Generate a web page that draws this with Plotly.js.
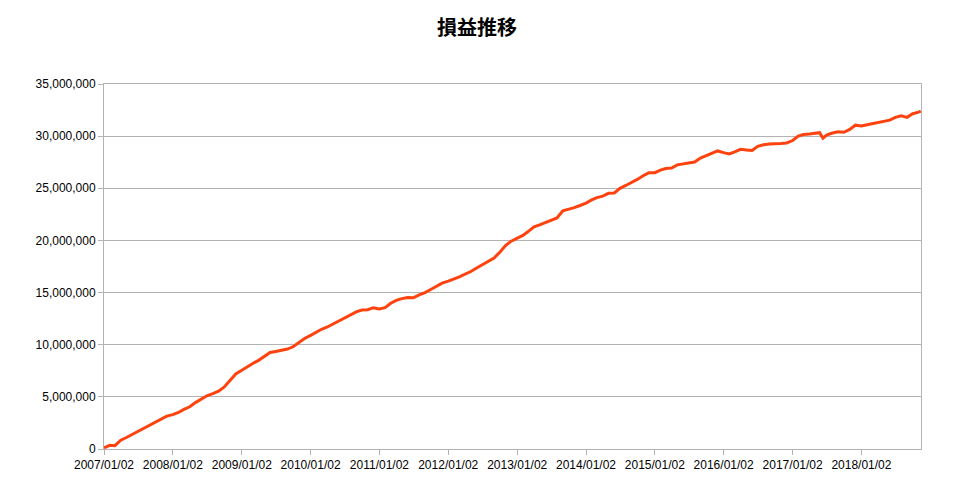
<!DOCTYPE html>
<html>
<head>
<meta charset="utf-8">
<script src="https://cdn.plot.ly/plotly-3.0.1.min.js"></script>
<style>html,body{margin:0;padding:0;background:#fff;}#chart{width:954px;height:492px;}</style>
</head>
<body>
<div id="chart"></div>
<script>
const chartTitle = '損益推移';

const dates = [
  '2007-01-02','2007-02-01','2007-03-01','2007-04-01','2007-05-01','2007-06-01','2007-07-01','2007-08-01','2007-09-01','2007-10-01','2007-11-01','2007-12-01',
  '2008-01-02','2008-02-01','2008-03-01','2008-04-01','2008-05-01','2008-06-01','2008-07-01','2008-08-01','2008-09-01','2008-10-01','2008-11-01','2008-12-01',
  '2009-01-02','2009-02-01','2009-03-01','2009-04-01','2009-05-01','2009-06-01','2009-07-01','2009-08-01','2009-09-01','2009-10-01','2009-11-01','2009-12-01',
  '2010-01-02','2010-02-01','2010-03-01','2010-04-01','2010-05-01','2010-06-01','2010-07-01','2010-08-01','2010-09-01','2010-10-01','2010-11-01','2010-12-01',
  '2011-01-02','2011-02-01','2011-03-01','2011-04-01','2011-05-01','2011-06-01','2011-07-01','2011-08-01','2011-09-01','2011-10-01','2011-11-01','2011-12-01',
  '2012-01-02','2012-02-01','2012-03-01','2012-04-01','2012-05-01','2012-06-01','2012-07-01','2012-08-01','2012-09-01','2012-10-01','2012-11-01','2012-12-01',
  '2013-01-02','2013-02-01','2013-03-01','2013-04-01','2013-05-01','2013-06-01','2013-07-01','2013-08-01','2013-09-01','2013-10-01','2013-11-01','2013-12-01',
  '2014-01-02','2014-02-01','2014-03-01','2014-04-01','2014-05-01','2014-06-01','2014-07-01','2014-08-01','2014-09-01','2014-10-01','2014-11-01','2014-12-01',
  '2015-01-02','2015-02-01','2015-03-01','2015-04-01','2015-05-01','2015-06-01','2015-07-01','2015-08-01','2015-09-01','2015-10-01','2015-11-01','2015-12-01',
  '2016-01-02','2016-02-01','2016-03-01','2016-04-01','2016-05-01','2016-06-01','2016-07-01','2016-08-01','2016-09-01','2016-10-01','2016-11-01','2016-12-01',
  '2017-01-02','2017-02-01','2017-03-01','2017-04-01','2017-05-01','2017-05-25','2017-06-12','2017-07-01','2017-08-01','2017-09-01','2017-10-01','2017-11-01','2017-12-01',
  '2018-01-02','2018-02-01','2018-03-01','2018-04-01','2018-05-01','2018-06-01','2018-07-01','2018-08-01','2018-09-01','2018-10-01','2018-11-01','2018-11-13'
];

const profit = [
  100000, 350000, 320000, 850000, 1100000, 1400000, 1650000, 1950000, 2300000, 2550000, 2850000, 3150000,
  3300000, 3500000, 3800000, 4050000, 4450000, 4750000, 5100000, 5300000, 5550000, 5950000, 6600000, 7200000,
  7550000, 7900000, 8200000, 8500000, 8900000, 9250000, 9350000, 9500000, 9580000, 9800000, 10180000, 10600000,
  10900000, 11220000, 11480000, 11700000, 11980000, 12250000, 12520000, 12820000, 13150000, 13330000, 13350000, 13550000,
  13420000, 13550000, 13950000, 14250000, 14420000, 14520000, 14500000, 14780000, 15000000, 15300000, 15600000, 15900000,
  16100000, 16270000, 16500000, 16780000, 17020000, 17350000, 17670000, 18020000, 18320000, 18850000, 19500000, 19930000,
  20220000, 20480000, 20850000, 21300000, 21500000, 21700000, 21900000, 22150000, 22850000, 22980000, 23150000, 23350000,
  23580000, 23880000, 24100000, 24250000, 24520000, 24550000, 25000000, 25270000, 25550000, 25850000, 26200000, 26480000,
  26500000, 26750000, 26900000, 26950000, 27250000, 27350000, 27400000, 27520000, 27900000, 28150000, 28350000, 28580000,
  28420000, 28300000, 28500000, 28740000, 28680000, 28620000, 29020000, 29180000, 29250000, 29310000, 29300000, 29350000,
  29580000, 30000000, 30150000, 30200000, 30250000, 30330000, 29800000, 30100000, 30300000, 30420000, 30370000, 30650000, 31050000,
  30970000, 31100000, 31200000, 31300000, 31400000, 31530000, 31800000, 31950000, 31800000, 32150000, 32300000, 32400000
];

const tickDates = ['2007-01-02','2008-01-02','2009-01-02','2010-01-02','2011-01-02','2012-01-02','2013-01-02','2014-01-02','2015-01-02','2016-01-02','2017-01-02','2018-01-02'];
const tickLabels = ['2007/01/02','2008/01/02','2009/01/02','2010/01/02','2011/01/02','2012/01/02','2013/01/02','2014/01/02','2015/01/02','2016/01/02','2017/01/02','2018/01/02'];

const gridColor = '#b3b3b3';
const tickFont = {family: '"Liberation Sans", Arial, sans-serif', size: 12, color: '#000000'};

Plotly.newPlot('chart', [{
  x: dates,
  y: profit,
  type: 'scatter',
  mode: 'lines',
  line: {color: '#ff420e', width: 3},
  hoverinfo: 'x+y'
}], {
  width: 954,
  height: 492,
  margin: {l: 104, r: 33, t: 84, b: 43},
  paper_bgcolor: '#ffffff',
  plot_bgcolor: '#ffffff',
  showlegend: false,
  title: {
    text: '<b>' + chartTitle + '</b>',
    font: {family: '"Noto Sans CJK JP", sans-serif', size: 20, color: '#000000'},
    x: 0.5, xref: 'container', xanchor: 'center',
    y: 0.943, yref: 'container', yanchor: 'middle'
  },
  xaxis: {
    type: 'date',
    range: ['2007-01-02', '2018-11-14'],
    tickvals: tickDates,
    ticktext: tickLabels,
    tickfont: tickFont,
    showgrid: false,
    showline: true,
    linecolor: gridColor,
    linewidth: 1,
    mirror: true,
    ticks: 'outside',
    ticklen: 5,
    tickcolor: gridColor,
    zeroline: false
  },
  yaxis: {
    range: [0, 35000000],
    dtick: 5000000,
    tick0: 0,
    tickformat: ',.0f',
    tickfont: tickFont,
    showgrid: true,
    gridcolor: gridColor,
    gridwidth: 1,
    showline: true,
    linecolor: gridColor,
    linewidth: 1,
    mirror: true,
    ticks: 'outside',
    ticklen: 5,
    tickcolor: gridColor,
    zeroline: false
  }
}, {displayModeBar: false, staticPlot: true});
</script>
</body>
</html>
